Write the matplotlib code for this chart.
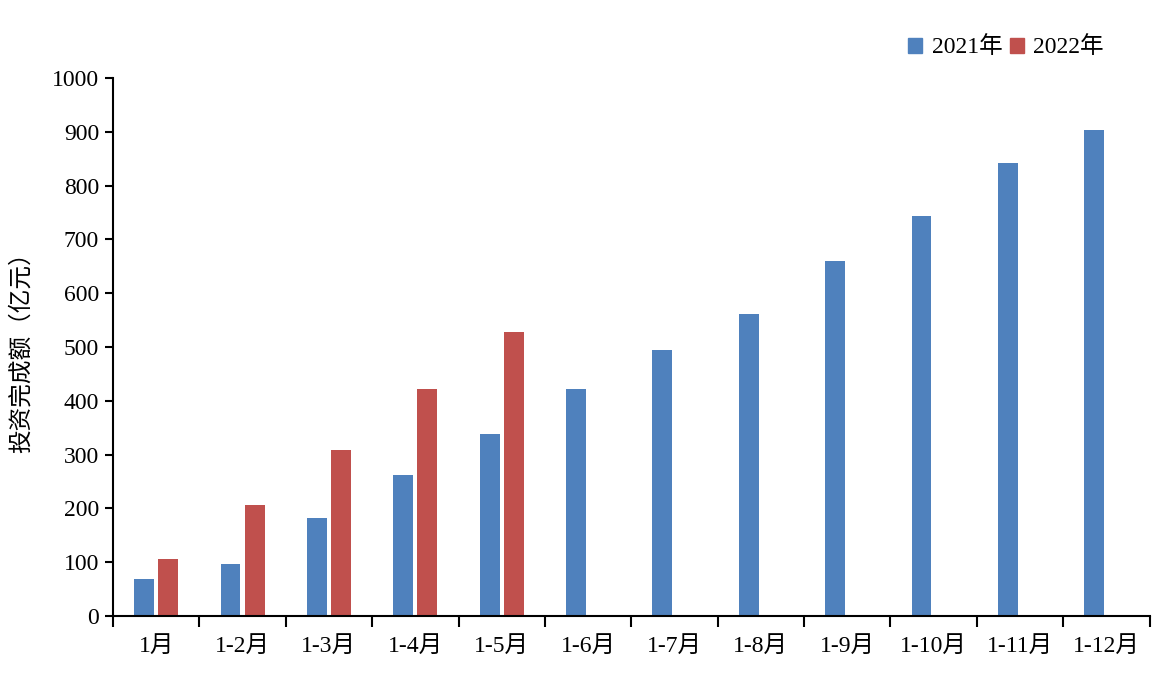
import matplotlib

matplotlib.use("Agg")

import matplotlib.pyplot as plt
import numpy as np
from matplotlib.patches import Patch

plt.rcParams["font.family"] = ["Liberation Serif", "Noto Sans CJK SC"]

CATEGORIES = ["1月", "1-2月", "1-3月", "1-4月", "1-5月", "1-6月", "1-7月",
              "1-8月", "1-9月", "1-10月", "1-11月", "1-12月"]
VALUES_2021 = [69, 97, 182, 262, 338, 422, 494, 561, 660, 743, 842, 903]
VALUES_2022 = [106, 206, 308, 422, 528]
SERIES_NAMES = ["2021年", "2022年"]
COLOR_2021 = "#4f81bd"
COLOR_2022 = "#c0504d"

fig = plt.figure(figsize=(11.66, 6.78), dpi=100)
ax = fig.add_axes([0.0969, 0.0914, 0.889, 0.7935])

x = np.arange(len(CATEGORIES))
width = 0.23
ax.bar(x - 0.14, VALUES_2021, width=width, color=COLOR_2021)
ax.bar(x[:len(VALUES_2022)] + 0.14, VALUES_2022, width=width, color=COLOR_2022)

ax.set_xlim(-0.5, len(CATEGORIES) - 0.5)
ax.set_ylim(0, 1000)
ax.set_yticks(np.arange(0, 1001, 100))
ax.set_xticks(np.arange(-0.5, len(CATEGORIES)), minor=False)
ax.set_xticklabels([])
ax.set_xticks(x, minor=True)
ax.set_xticklabels(CATEGORIES, minor=True)
ax.tick_params(axis="x", which="major", length=8, width=1.5, direction="out")
ax.tick_params(axis="x", which="minor", length=0, pad=14, labelsize=17)
ax.tick_params(axis="y", length=6, width=1.5, direction="out", labelsize=17, pad=4)

for side in ["top", "right"]:
    ax.spines[side].set_visible(False)
for side in ["left", "bottom"]:
    ax.spines[side].set_linewidth(1.5)

ax.set_ylabel("投资完成额（亿元）", fontsize=17, labelpad=14)

handles = [Patch(color=COLOR_2021), Patch(color=COLOR_2022)]
fig.legend(handles, SERIES_NAMES, loc="center right", bbox_to_anchor=(0.965, 0.93),
           ncol=2, frameon=False, fontsize=17, handlelength=0.6, handleheight=0.6,
           handletextpad=0.4, columnspacing=0.3)

fig.savefig("out.png", dpi=100)
